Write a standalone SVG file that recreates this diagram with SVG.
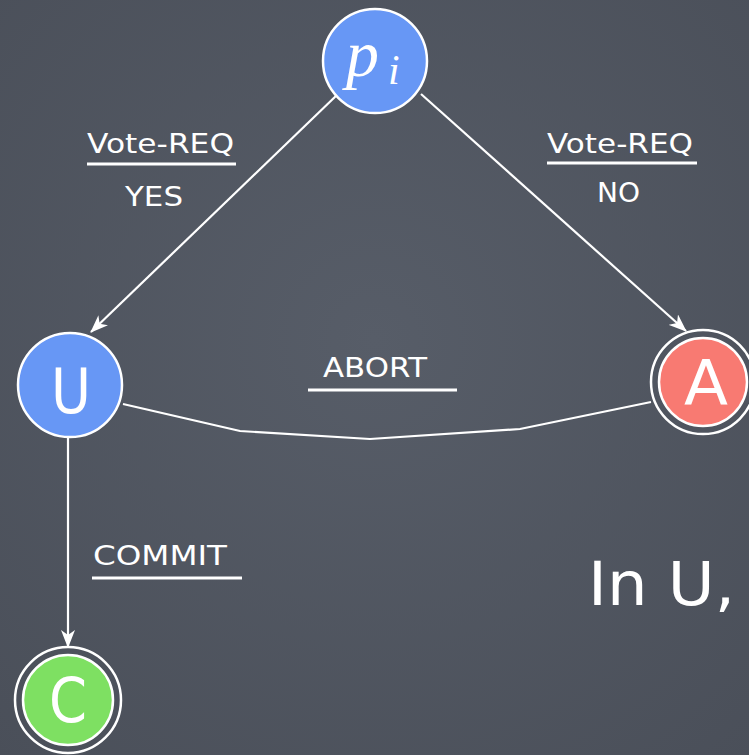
<svg xmlns="http://www.w3.org/2000/svg" width="749" height="755" viewBox="0 0 749 755">
<defs>
<radialGradient id="bg" cx="50%" cy="45%" r="75%">
<stop offset="0" stop-color="#575d68"/>
<stop offset="1" stop-color="#4a4f59"/>
</radialGradient>
<marker id="arr" viewBox="0 0 18 14" refX="17" refY="7" markerWidth="18" markerHeight="14" markerUnits="userSpaceOnUse" orient="auto">
<path d="M0,0 L18,7 L0,14 L5,7 z" fill="#ffffff"/>
</marker>
</defs>
<style>
.edge{fill:none;stroke:#ffffff;stroke-width:2.2}
.ul{stroke:#ffffff;stroke-width:3}
.lbl{font-family:"DejaVu Sans",sans-serif;fill:#ffffff}
.node{stroke:#ffffff;stroke-width:2.5}
.ring{fill:none;stroke:#ffffff;stroke-width:2.5}
.nl{font-family:"DejaVu Sans",sans-serif;fill:#ffffff;text-anchor:middle}
.math{font-family:"Liberation Serif","DejaVu Serif",serif;font-style:italic;fill:#ffffff}
</style>
<rect width="749" height="755" fill="url(#bg)"/>
<g id="connectors">
<line class="edge" x1="338" y1="94" x2="91" y2="332" marker-end="url(#arr)"/>
<line class="edge" x1="421" y1="94" x2="686" y2="331" marker-end="url(#arr)"/>
<line class="edge" x1="68" y1="438" x2="68" y2="647" marker-end="url(#arr)"/>
<polyline class="edge" points="123,404 240,431 370,439 520,429 651,402"/>
</g>
<g id="edge-labels">
<text class="lbl" x="87" y="153" font-size="27" textLength="147" lengthAdjust="spacingAndGlyphs">Vote-REQ</text>
<line class="ul" x1="87" y1="164" x2="236" y2="164"/>
<text class="lbl" x="125" y="206" font-size="27" textLength="58" lengthAdjust="spacingAndGlyphs">YES</text>
<text class="lbl" x="547" y="153" font-size="27" textLength="146" lengthAdjust="spacingAndGlyphs">Vote-REQ</text>
<line class="ul" x1="547" y1="163" x2="697" y2="163"/>
<text class="lbl" x="597" y="202" font-size="27" textLength="43" lengthAdjust="spacingAndGlyphs">NO</text>
<text class="lbl" x="323" y="377" font-size="27" textLength="104" lengthAdjust="spacingAndGlyphs">ABORT</text>
<line class="ul" x1="308" y1="390" x2="457" y2="390"/>
<text class="lbl" x="93" y="565" font-size="27" textLength="134" lengthAdjust="spacingAndGlyphs">COMMIT</text>
<line class="ul" x1="92" y1="578" x2="242" y2="578"/>
</g>
<g id="node-pi">
<circle class="node" cx="375" cy="61" r="52" fill="#6797f5"/>
<text class="math" x="346" y="76" font-size="66">p</text>
<text class="math" x="388" y="84" font-size="42">i</text>
</g>
<g id="node-U">
<circle class="node" cx="70" cy="385" r="52" fill="#6797f5"/>
<text class="nl" x="71" y="413" font-size="62" textLength="40" lengthAdjust="spacingAndGlyphs">U</text>
</g>
<g id="node-A">
<circle class="ring" cx="703" cy="382" r="52"/>
<circle class="node" cx="703" cy="382" r="44" fill="#f87a72"/>
<text class="nl" x="706" y="405" font-size="62" textLength="44" lengthAdjust="spacingAndGlyphs">A</text>
</g>
<g id="node-C">
<circle class="ring" cx="68" cy="700" r="53"/>
<circle class="node" cx="68" cy="700" r="45" fill="#7ee062"/>
<text class="nl" x="68" y="722" font-size="62" textLength="38" lengthAdjust="spacingAndGlyphs">C</text>
</g>
<g id="caption">
<text class="lbl" x="588" y="605" font-size="60" textLength="147" lengthAdjust="spacingAndGlyphs">In U,</text>
</g>
</svg>
